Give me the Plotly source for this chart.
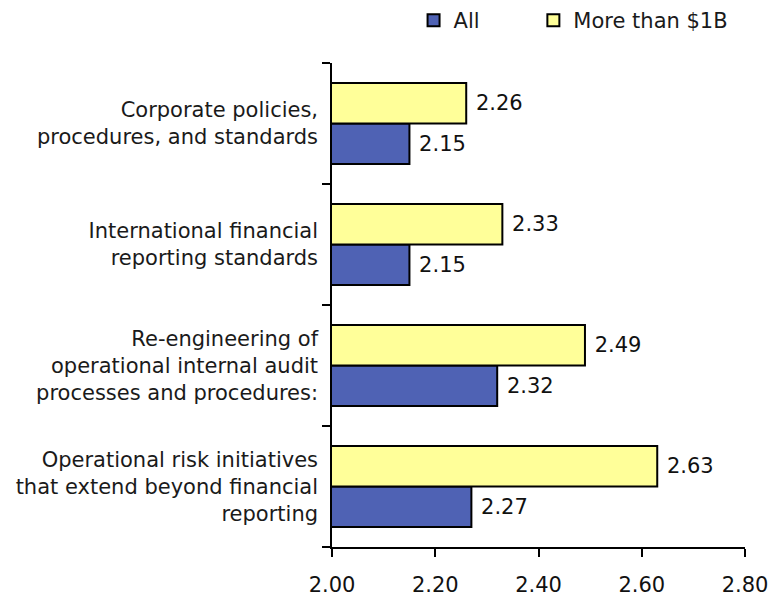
import plotly.graph_objects as go

# categories listed bottom-to-top (plotly draws the first category at the bottom)
categories = [
    "Operational risk initiatives<br>that extend beyond financial<br>reporting",
    "Re-engineering of<br>operational internal audit<br>processes and procedures:",
    "International financial<br>reporting standards",
    "Corporate policies,<br>procedures, and standards",
]
all_vals = [2.27, 2.32, 2.15, 2.15]
big_vals = [2.63, 2.49, 2.33, 2.26]
x_ticks = [2.0, 2.2, 2.4, 2.6, 2.8]

font_family = "DejaVu Sans, sans-serif"
pad = "\u00a0"  # small gap between bar end and value label

fig = go.Figure()
fig.add_trace(go.Bar(
    y=categories, x=all_vals, orientation="h", name="All", legend="legend",
    marker=dict(color="#4F62B4", line=dict(color="black", width=2)),
    text=[pad + f"{v:.2f}" for v in all_vals], textposition="outside",
    textfont=dict(size=21, color="#111"),
))
fig.add_trace(go.Bar(
    y=categories, x=big_vals, orientation="h", name="More than $1B", legend="legend2",
    marker=dict(color="#FFFF99", line=dict(color="black", width=2)),
    text=[pad + f"{v:.2f}" for v in big_vals], textposition="outside",
    textfont=dict(size=21, color="#111"),
))

legend_style = dict(orientation="h", xanchor="left", yanchor="top",
                    xref="container", yref="container", font=dict(size=21),
                    itemwidth=30, bgcolor="rgba(0,0,0,0)")

fig.update_layout(
    width=773, height=603,
    barmode="group", bargap=0.33, bargroupgap=0,
    plot_bgcolor="white", paper_bgcolor="white",
    font=dict(family=font_family, size=21, color="#1a1a1a"),
    margin=dict(l=332, r=28, t=63, b=56, autoexpand=False),
    legend=dict(legend_style, x=0.535, y=1.0),
    legend2=dict(legend_style, x=0.69, y=1.0),
    showlegend=True,
)
fig.update_xaxes(
    range=[2.0, 2.8], tickvals=x_ticks, tickformat=".2f",
    showline=True, linecolor="black", linewidth=1.5,
    ticks="outside", ticklen=8, tickcolor="black", tickwidth=1.5,
    showgrid=False, zeroline=False, tickfont=dict(size=21, color="#111"),
    ticklabelstandoff=10, automargin=False,
)
fig.update_yaxes(
    categoryorder="array", categoryarray=categories,
    showline=True, linecolor="black", linewidth=1.5,
    ticks="outside", ticklen=8, tickcolor="black", tickwidth=1.5,
    tickson="boundaries", showgrid=False, tickfont=dict(size=21, color="#1a1a1a"),
    ticklabelstandoff=8, automargin=False,
)

fig.write_html("out.html", config={"displayModeBar": False},
               post_script="document.body.style.margin='0';")
